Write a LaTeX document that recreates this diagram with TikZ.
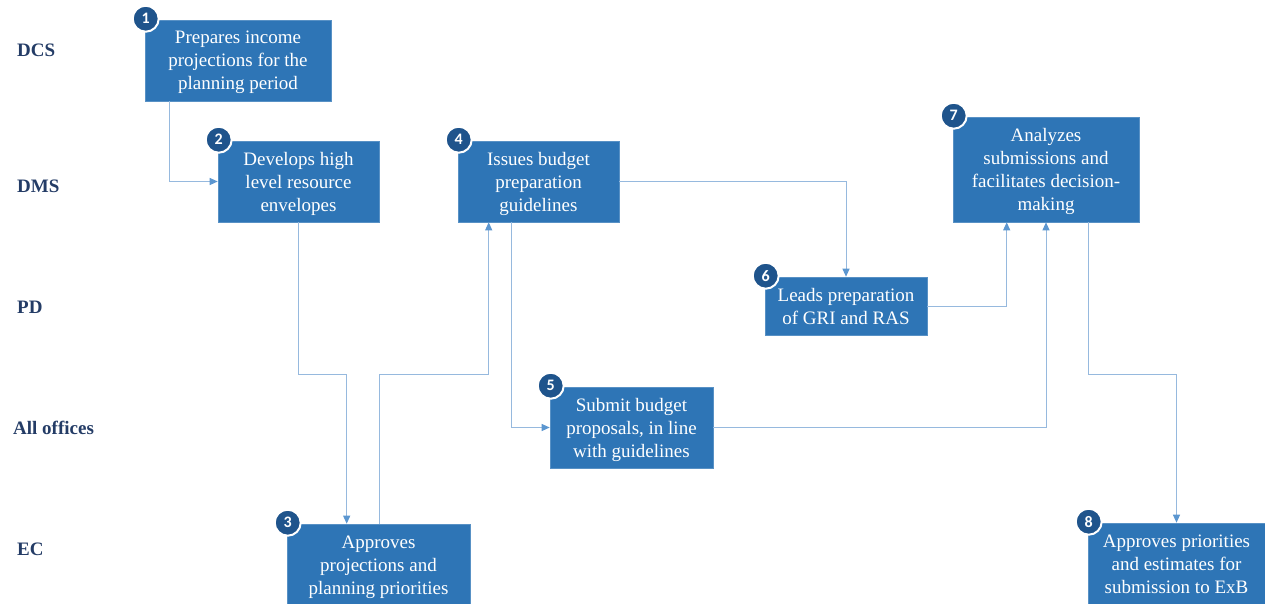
\documentclass[tikz,border=0pt]{standalone}
\usepackage{fontspec}
\setmainfont{Liberation Serif}
\newfontfamily\badgefont{Carlito}
\usepackage{tikz}
\usetikzlibrary{calc}
\usetikzlibrary{arrows.meta}
\usetikzlibrary{positioning}
\definecolor{boxblue}{RGB}{46,117,182}
\definecolor{badgeblue}{RGB}{31,84,140}
\definecolor{flowline}{RGB}{150,185,222}
\definecolor{flowtip}{RGB}{91,150,208}
\definecolor{lanenavy}{RGB}{36,60,102}
\tikzset{stepbox/.style={fill=boxblue,draw=boxblue!80!white,line width=0.6pt,text=white,align=center,inner sep=0pt,
    font=\fontsize{19}{23}\selectfont,text depth=-6pt},
    badge/.style={circle,fill=badgeblue,draw=white,line width=2pt,minimum size=26pt,inner sep=0pt,text=white,
    font=\badgefont\bfseries\fontsize{16}{16}\selectfont},
    lane/.style={anchor=west,inner sep=0pt,text=lanenavy,font=\bfseries\fontsize{19}{19}\selectfont},
    flow/.style={draw=flowline,line width=1pt,-{Triangle[length=8pt,width=7pt,color=flowtip]}}}

\begin{document}
\begin{tikzpicture}[x=1pt,y=1pt,yscale=-1,xscale=1]
\useasboundingbox (0,0) rectangle (1265,603);

% Lane labels
\node[lane] (ldcs) at (17,50) {DCS};
\node[lane] (ldms) at (17,186) {DMS};
\node[lane] (lpd) at (17,307) {PD};
\node[lane] (lall) at (13,428) {All offices};
\node[lane] (lec) at (17,549) {EC};

%Shape: Rectangle
\node[stepbox,minimum width=186pt,minimum height=81pt] (n1) at (238,60.5) {Prepares income\\projections for the\\planning period};
\node[stepbox,minimum width=161pt,minimum height=81pt] (n2) at (298.5,181.5) {Develops high\\level resource\\envelopes};
\node[stepbox,minimum width=183pt,minimum height=82pt] (n3) at (378.5,565) {Approves\\projections and\\planning priorities};
\node[stepbox,minimum width=161pt,minimum height=81pt] (n4) at (538.5,181.5) {Issues budget\\preparation\\guidelines};
\node[stepbox,minimum width=163pt,minimum height=81pt] (n5) at (631.5,427.5) {Submit budget\\proposals, in line\\with guidelines};
\node[stepbox,minimum width=162pt,minimum height=58pt] (n6) at (846,306) {Leads preparation\\of GRI and RAS};
\node[stepbox,minimum width=186pt,minimum height=105pt] (n7) at (1046,169.5) {Analyzes\\submissions and\\facilitates decision-\\making};
\node[stepbox,minimum width=177pt,minimum height=82pt] (n8) at (1176.5,564) {Approves priorities\\and estimates for\\submission to ExB};

%Shape: Circle
\foreach \k in {1,...,8}
  \node[badge] (b\k) at ($(n\k.north west)+(1,-1)$) {\k};

% Connector points
\coordinate (lowlane) at (0,374);
\coordinate (s1) at ($(n1.south west)+(25,0)$);
\coordinate (t3) at ($(n3.north west)+(60,0)$);
\coordinate (s3) at ($(n3.north west)+(93,0)$);
\coordinate (t4) at ($(n4.south west)+(31,0)$);
\coordinate (s4) at ($(n4.south west)+(54,0)$);
\coordinate (t7) at ($(n7.south west)+(54,0)$);
\coordinate (s7) at ($(n7.south east)+(-51,0)$);

%Connectors
\draw[flow] (s1) |- (n2.west);
\draw[flow] (n2.south) -- (n2.south |- lowlane) -| (t3);
\draw[flow] (s3) -- (s3 |- lowlane) -| (t4);
\draw[flow] (s4) |- (n5.west);
\draw[flow] (n4.east) -| (n6.north);
\draw[flow] (n6.east) -| (t7);
\draw[flow] (n5.east) -| (n7.south);
\draw[flow] (s7) -- (s7 |- lowlane) -| (n8.north);

\end{tikzpicture}
\end{document}
